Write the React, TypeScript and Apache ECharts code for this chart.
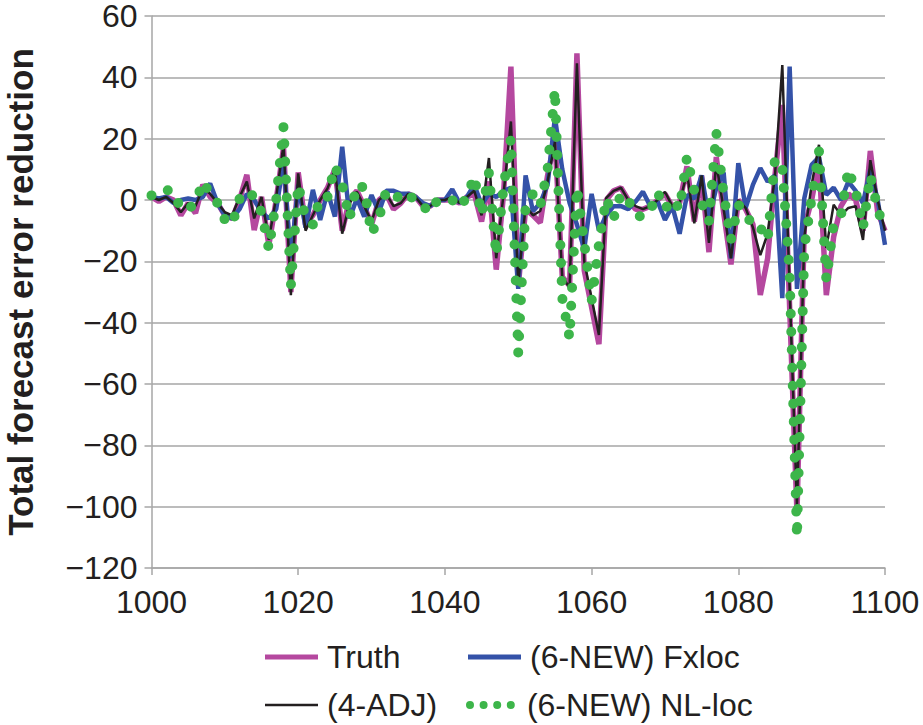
import React, { useEffect, useRef } from "react";
import * as echarts from "echarts";

// First step number on the x axis; values below are one per step (1000..1100)
const FIRST_STEP = 1000;

const xTicks = [1000, 1020, 1040, 1060, 1080, 1100];
const yTicks = [-120, -100, -80, -60, -40, -20, 0, 20, 40, 60];

const seriesNames = ["Truth", "(6-NEW) Fxloc", "(4-ADJ)", "(6-NEW) NL-loc"];

// Truth
const truth = [
  1, -0.5, 1, 0, -5, -1, -4.3, 5, 1, -1,
  -5, -6, 0, 8.2, -9.8, 1, -14.7, 0, 17, -30,
  9, -8, -5, 0, 4, 10, -10, 0, 3, -2,
  -8, 0, 2, -3, -1, 2, 1, -2, -2, 0,
  0, 0, -1, 1, 2, -7, 6, -22.7, 2, 43.5,
  -28, -3, -5, -7.4, 8, 20, -25, -28, 47.8, -23,
  -35, -47, 0, 3, 4, 0, -3, -3, -2, 0,
  2, -2, -1, 11, -7, 8, -17, 14, -4, -21,
  0, -3, -8, -31, -19, 8, 31, -35, -102, -9,
  0, 12.6, -31, -12, -2, 2, 0, -10, 16, -4,
  -10,
];

// (6-NEW) Fxloc
const fxloc = [
  1, 0.5, 1, -1, 0, 0.5, 0, 1, 5.4, -1,
  -5, -6, -3, 2, 0, -4, -6, -3, 12, -19,
  5, -9, 3.3, -6.5, 2.7, -5.4, 17.4, -6, 0.5, -5.4,
  1.6, -4, 3, 3, 2, 2, 1, -1, -2, 0,
  0, 3.5, -1, 1, 5, -1.5, 2, 1, 3, 4,
  -29, 8, -3.7, -1, 5, 27, 10, -1, -8, -16,
  2, -10, -5, -2, -2, -3, -0.5, 2.7, -2, -0.5,
  -6.5, -2, -11, 1.6, 0.5, 8, -6, 4, 9, -19,
  12, -2.6, 5, 10.4, 6, 8, -32, 43.5, -29, 0.6,
  11.5, 14, 1.7, 4, 0, 6, 3, -1, 10, 0,
  -14.6,
];

// (4-ADJ)
const adj = [
  1, 0, 1, -1, -4, -1, -2, 4, 2, -1,
  -4, -5, 1, 6, -6, 1, -13, 1, 18, -31,
  8.7, -10, -5, 0, 3.8, 10, -11, -1, 2.7, -2,
  -7, 0, 2, -2, -1, 2, 1, -2, -2, 0,
  0, 1, -1, 1, 3, -5, 13.7, -19, 2, 25.6,
  -27, -2, -5, -3.6, 6, 19, -25, -28.6, 44.6, -20,
  -32, -44, 0.7, 3, 4, 0, -2, -3, -2, 0,
  2.7, -2, -1, 9, -7.6, 8, -14, 12, -3, -19,
  0, -2.6, -9, -18, -11, 8, 44, -29, -100, -12,
  5, 18, -15.6, -1.5, -5, -2.6, -2, -13, 13, 0,
  -10,
];

// (6-NEW) NL-loc
const nlloc = [
  1.5, 1.6, 3.3, 2.7, -3, -3, -1, 6, 2, -1,
  -6.5, -8, 0.3, 3, 1, -4, -16, 0, 24, -28,
  5, -6, -8, 1, 1, 11, 5, -6, 5, 4,
  -11, -6, 3, 1, 1, 2.5, -1, -2, -4, 0,
  0, 0, -2.5, 1, 7.7, -4.8, 8.8, -18, 4.4, 20,
  -50, -2, 2, -2, 10, 36, -32, -45, 4, -14,
  -33, -14.5, 0.5, -6, 2, 0, -5, -5.5, -3.5, 2.5,
  -3, 0.3, -3, 14, 3, -1, -7, 22, 2, -13,
  -1.5, -4, -9, -9, -13, 13.5, 11, -24, -110, -15.6,
  0.6, 16, -26, -8, -5, 10, 3, -9, 8, -3,
  -10,
];

const FONT = "'Liberation Sans', Arial, Helvetica, sans-serif";
const TEXT = "#231F20";
const GRID = "#A6A6A6";
const COLORS = ["#B5489F", "#3452A8", "#231F20", "#3DB54A"];

const DOTS_ICON =
  "path://M0,5a5,5 0 1,0 10,0a5,5 0 1,0 -10,0Z" +
  "M17,5a5,5 0 1,0 10,0a5,5 0 1,0 -10,0Z" +
  "M34,5a5,5 0 1,0 10,0a5,5 0 1,0 -10,0Z" +
  "M51,5a5,5 0 1,0 10,0a5,5 0 1,0 -10,0Z";

const toPairs = (vals: number[]) => vals.map((v, i) => [FIRST_STEP + i, v]);
const fmtY = (v: number) => (v < 0 ? "\u2212" + Math.abs(v) : String(v));
const fmtX = (v: number) => String(v);

export default function App() {
  const ref = useRef<HTMLDivElement>(null);

  useEffect(() => {
    if (!ref.current) return;
    const chart = echarts.init(ref.current, undefined, { renderer: "svg" });

    const legendBase = {
      orient: "horizontal",
      itemWidth: 53,
      itemGap: 0,
      padding: 0,
      textStyle: { fontSize: 32, color: TEXT, fontFamily: FONT, padding: [0, 0, 0, 4] },
    };

    const option: any = {
      animation: false,
      backgroundColor: "#ffffff",
      grid: {
        left: 151.5,
        right: 38,
        top: 16,
        bottom: 157,
        containLabel: false,
        outerBoundsMode: "none",
      },
      xAxis: {
        type: "value",
        min: xTicks[0],
        max: xTicks[xTicks.length - 1],
        interval: xTicks[1] - xTicks[0],
        axisLine: { show: true, onZero: false, lineStyle: { color: GRID, width: 1.5 } },
        axisTick: { show: true, length: 7, lineStyle: { color: GRID, width: 1.5 } },
        axisLabel: { fontSize: 32, color: TEXT, fontFamily: FONT, margin: 18, formatter: fmtX },
        splitLine: { show: false },
      },
      yAxis: {
        type: "value",
        min: yTicks[0],
        max: yTicks[yTicks.length - 1],
        interval: yTicks[1] - yTicks[0],
        name: "Total forecast error reduction",
        nameLocation: "middle",
        nameRotate: 90,
        nameGap: 114,
        nameTextStyle: { fontSize: 35, fontWeight: "bold", color: TEXT, fontFamily: FONT },
        axisLine: { show: true, onZero: false, lineStyle: { color: GRID, width: 1.5 } },
        axisTick: { show: true, length: 7, lineStyle: { color: GRID, width: 1.5 } },
        axisLabel: {
          fontSize: 32,
          lineHeight: 22,
          color: TEXT,
          fontFamily: FONT,
          margin: 14,
          formatter: fmtY,
        },
        splitLine: { show: true, lineStyle: { color: GRID, width: 1.5 } },
      },
      legend: [
        { ...legendBase, data: [seriesNames[0]], icon: "rect", itemHeight: 5, left: 265, top: 641 },
        { ...legendBase, data: [seriesNames[1]], icon: "rect", itemHeight: 5, left: 468, top: 641 },
        { ...legendBase, data: [seriesNames[2]], icon: "rect", itemHeight: 2.5, left: 265, top: 689 },
        { ...legendBase, data: [seriesNames[3]], icon: DOTS_ICON, itemWidth: 55, itemHeight: 8, left: 466, top: 689 },
      ],
      series: [
        {
          name: seriesNames[0],
          type: "line",
          data: toPairs(truth),
          symbol: "none",
          color: COLORS[0],
          lineStyle: { width: 5.5, color: COLORS[0] },
          z: 2,
        },
        {
          name: seriesNames[1],
          type: "line",
          data: toPairs(fxloc),
          symbol: "none",
          color: COLORS[1],
          lineStyle: { width: 4.5, color: COLORS[1] },
          z: 3,
        },
        {
          name: seriesNames[2],
          type: "line",
          data: toPairs(adj),
          symbol: "none",
          color: COLORS[2],
          lineStyle: { width: 2.5, color: COLORS[2] },
          z: 4,
        },
        {
          name: seriesNames[3],
          type: "line",
          data: toPairs(nlloc),
          symbol: "none",
          color: COLORS[3],
          lineStyle: { width: 10, color: COLORS[3], type: [0, 18], cap: "round", join: "round" },
          z: 5,
        },
      ],
    };

    chart.setOption(option);
    return () => chart.dispose();
  }, []);

  return (
    <div
      ref={ref}
      style={{ position: "absolute", left: 0, top: 0, width: 923, height: 725, background: "#fff" }}
    />
  );
}
